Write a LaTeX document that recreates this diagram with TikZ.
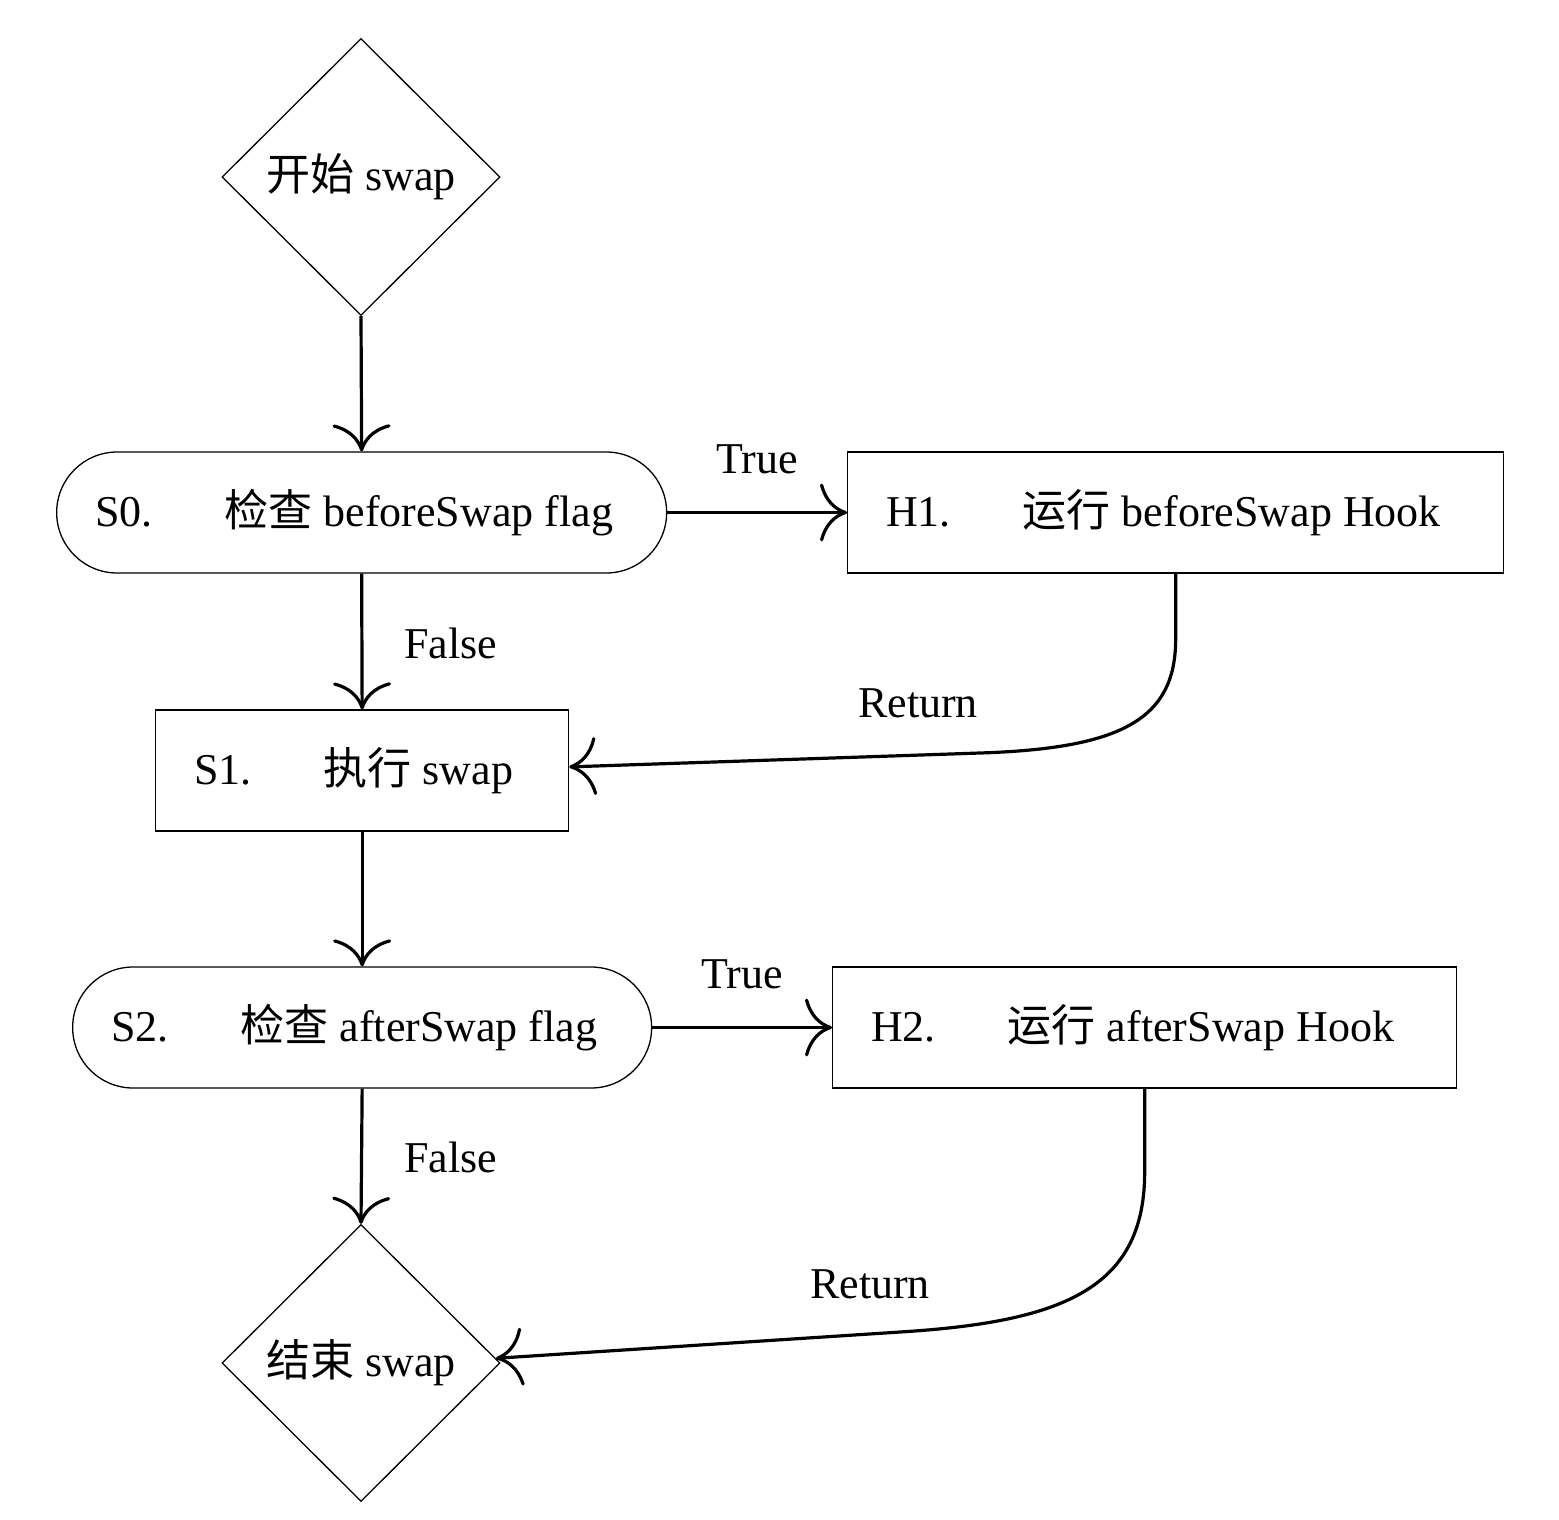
\documentclass[tikz,border=0pt]{standalone}
\usepackage{fontspec}
\setmainfont{Liberation Serif}
\newfontfamily\cjk{Noto Sans CJK SC}
\newcommand{\lefttext}[2]{\makebox[#1][l]{#2}}
\usetikzlibrary{arrows.meta,shapes.geometric}
\begin{document}
\begin{tikzpicture}[x=1pt,y=-1pt,
  every node/.style={font=\fontsize{44pt}{52pt}\selectfont},
  box/.style={draw, line width=1.3pt, minimum height=121pt, inner xsep=38.5pt,
    inner ysep=0pt, anchor=west},
  stadium/.style={box, rounded corners=60.5pt},
  dia/.style={diamond, draw, line width=1.3pt, minimum width=278pt,
    minimum height=277pt, inner sep=0pt},
  conn/.style={line width=3.2pt, -{To[length=27pt,width=58pt]}},
  lbl/.style={inner sep=0pt, anchor=base},
  flbl/.style={inner sep=0pt, anchor=base west, xshift=41pt, yshift=-16.5pt},
  tlbl/.style={inner sep=0pt, anchor=base, yshift=39pt}
]
\useasboundingbox (0,0) rectangle (1559,1519);

\node[dia] (start) at (361,177) {{\cjk 开始} swap};
\node[stadium] (S0) at (56,512.5) {\lefttext{533pt}{S0.\hspace{72pt}{\cjk 检查} beforeSwap flag}};
\node[box] (H1) at (847,512.5) {\lefttext{579pt}{H1.\hspace{72pt}{\cjk 运行} beforeSwap Hook}};
\node[box] (S1) at (155,770.5) {\lefttext{336pt}{S1.\hspace{72pt}{\cjk 执行} swap}};
\node[stadium] (S2) at (72,1027.5) {\lefttext{502pt}{S2.\hspace{72pt}{\cjk 检查} afterSwap flag}};
\node[box] (H2) at (832,1027.5) {\lefttext{547pt}{H2.\hspace{72pt}{\cjk 运行} afterSwap Hook}};
\node[dia] (end) at (361,1363) {{\cjk 结束} swap};

\draw[conn] (start.south) -- (S0.north);
\draw[conn] (S0.east) -- node[tlbl] {True} (H1.west);
\draw[conn] (S0.south) -- node[flbl] {False} (S1.north);
\draw[conn] (H1.south) -- ++(0,67) .. controls (1175,720) and (1120,748.5) .. (980,753) -- (S1.1.25);
\node[lbl] (r1) at (918,717) {Return};
\draw[conn] (S1.south) -- (S2.north);
\draw[conn] (S2.east) -- node[tlbl] {True} (H2.west);
\draw[conn] (S2.south) -- node[flbl] {False} (end.north);
\draw[conn] (H2.south) -- ++(0,87) .. controls (1143,1290) and (1060,1322) .. (900,1332) -- (end.2);
\node[lbl] (r2) at (870,1298) {Return};
\end{tikzpicture}
\end{document}
